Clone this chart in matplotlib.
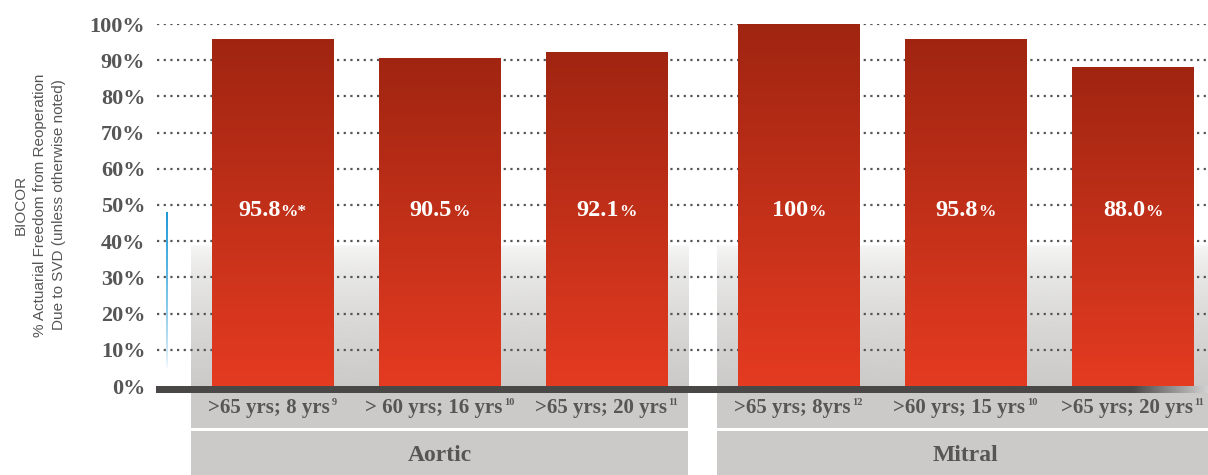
import numpy as np
import matplotlib.pyplot as plt
from matplotlib.offsetbox import TextArea, HPacker, AnnotationBbox
from matplotlib.patches import Rectangle
from matplotlib.colors import to_rgb

# data
groups = ["Aortic", "Mitral"]
bar_group = [0, 0, 0, 1, 1, 1]
values = [95.8, 90.5, 92.1, 100.0, 95.8, 88.0]
value_text = ["95.8", "90.5", "92.1", "100", "95.8", "88.0"]
value_mark = ["*", "", "", "", "", ""]
labels = [">65 yrs; 8 yrs", "> 60 yrs; 16 yrs", ">65 yrs; 20 yrs",
          ">65 yrs; 8yrs", ">60 yrs; 15 yrs", ">65 yrs; 20 yrs"]
refs = ["9", "10", "11", "12", "10", "11"]
yticks = list(range(0, 101, 10))
ylabel = "BIOCOR\n% Actuarial Freedom from Reoperation\nDue to SVD (unless otherwise noted)"

SERIF = "Liberation Serif"
SANS = "Liberation Sans"
TXT = "#565656"
PANEL = "#cbcac8"

W, H = 1208, 475
fig = plt.figure(figsize=(W / 100, H / 100), dpi=100)
ax = fig.add_axes([155 / W, 1 - 386 / H, 1 - 155 / W, 362 / H])

gap = 0.15
x = np.arange(len(values)) + gap * np.array(bar_group)
bw = 0.725

# gray panels behind each group
for g, name in enumerate(groups):
    xs = x[np.array(bar_group) == g]
    x0, x1 = xs.min() - 0.49, xs.max() + 0.49
    ramp = np.linspace(0, 1, 200)[:, None]
    alpha = np.clip((1 - ramp) ** 0.6, 0, 1) * 0.95 + 0.05
    alpha[ramp[:, 0] > 0.97] = 0
    img = np.zeros((200, 1, 4))
    img[..., :3] = to_rgb(PANEL)
    img[..., 3] = alpha
    ax.imshow(img, extent=[x0, x1, 0, 40], origin="lower", aspect="auto", zorder=0.5)
    ax.add_patch(Rectangle((x0, -11.6), x1 - x0, 11.6, color=PANEL, clip_on=False, zorder=0.5, lw=0))
    ax.add_patch(Rectangle((x0, -27), x1 - x0, 14.6, color=PANEL, clip_on=False, zorder=0.5, lw=0))
    ax.text((x0 + x1) / 2, -19.1, name, ha="center", va="center", fontsize=17,
            family=SERIF, weight="bold", color=TXT)

# dotted grid
for t in yticks[1:]:
    ax.axhline(t, xmin=0.002, color="#555555", lw=1.6, ls=(0, (1, 2)), zorder=1)

# bars with vertical gradient
top = np.array(to_rgb("#a02511"))
bot = np.array(to_rgb("#e43b21"))
for xi, v in zip(x, values):
    t = np.linspace(0, 1, 256)[:, None]
    grad = (bot * (1 - t) + top * t)[:, None, :]
    ax.imshow(grad, extent=[xi - bw / 2, xi + bw / 2, 0, v], origin="lower",
              aspect="auto", zorder=3)

# value labels
for xi, vt, mk in zip(x, value_text, value_mark):
    parts = [TextArea(vt, textprops=dict(color="white", size=17.5, family=SERIF, weight="bold")),
             TextArea("%" + mk, textprops=dict(color="white", size=12.5, family=SERIF, weight="bold"))]
    pack = HPacker(children=parts, align="baseline", pad=0, sep=0)
    ax.add_artist(AnnotationBbox(pack, (xi, 48.6), frameon=False, box_alignment=(0.5, 0.5),
                                 annotation_clip=False, zorder=5))

# category labels with reference superscripts
for xi, lb, rf in zip(x, labels, refs):
    parts = [TextArea(lb, textprops=dict(color=TXT, size=15, family=SERIF, weight="bold")),
             TextArea(rf, textprops=dict(color=TXT, size=7.5, family=SERIF, weight="bold"))]
    pack = HPacker(children=parts, align="top", pad=0, sep=1.5)
    ax.add_artist(AnnotationBbox(pack, (xi, -6.1), frameon=False, box_alignment=(0.5, 0.5),
                                 annotation_clip=False, zorder=5))

# baseline with fade on the right
xl0, xl1 = -0.704, 5.602
n = 400
pos = np.linspace(0, 1, n)
dark = np.array(to_rgb("#4a4747"))
light = np.array(to_rgb("#d0d0d0"))
f = np.clip((pos - 0.93) / 0.07, 0, 1)[:, None]
line = (dark * (1 - f) + light * f)[None, :, :]
ax.imshow(line, extent=[xl0 + 0.006, xl1, -1.9, -0.1], aspect="auto", zorder=4, clip_on=False)

# thin blue accent line
bl = np.zeros((100, 1, 4))
bl[..., :3] = to_rgb("#1f9ad6")
bl[..., 3] = np.linspace(0, 1, 100)[:, None] ** 0.7
ax.imshow(bl, extent=[-0.636, -0.628, 4.5, 48], origin="lower", aspect="auto", zorder=2)

ax.set_xlim(xl0, xl1)
ax.set_ylim(0, 100)
ax.set_yticks(yticks)
ax.set_yticklabels([f"{t}%" for t in yticks], family=SERIF, weight="bold", fontsize=16, color=TXT)
ax.tick_params(axis="y", length=0, pad=7)
ax.set_xticks([])
for s in ax.spines.values():
    s.set_visible(False)

fig.text(40 / W, 1 - 205 / H, ylabel, rotation=90, ha="center", va="center",
         multialignment="center", family=SANS, fontsize=11, color=TXT, linespacing=1.45)

fig.savefig("out.png", dpi=100)
